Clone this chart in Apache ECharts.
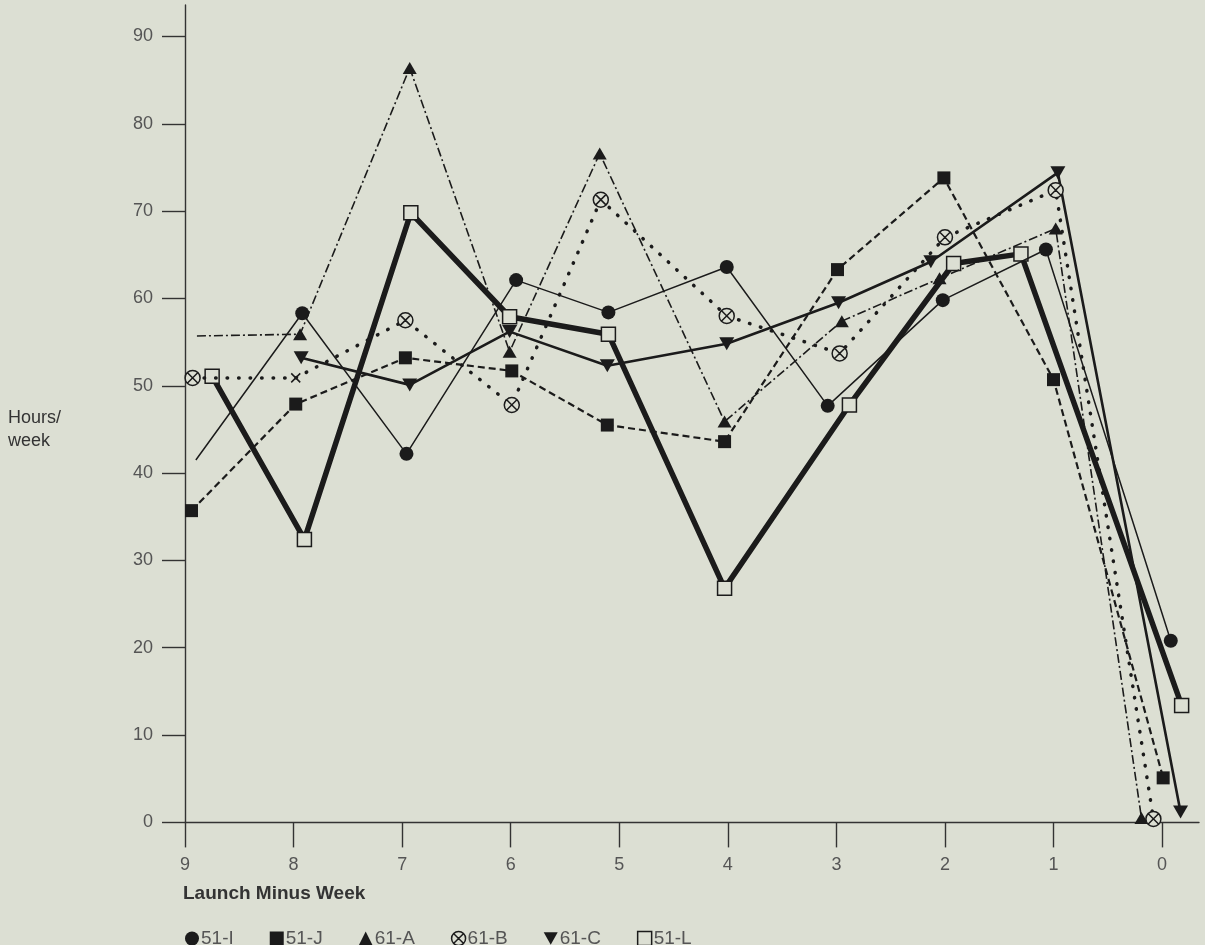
<!DOCTYPE html>
<html>
<head>
<meta charset="utf-8">
<script src="https://cdn.jsdelivr.net/npm/echarts@6/dist/echarts.min.js"></script>
<style>
html,body{margin:0;padding:0;background:#dcdfd3;}
#chart{width:1205px;height:945px;}
</style>
</head>
<body>
<div id="chart"></div>
<script>
// Tick labels
const xTicks = [9, 8, 7, 6, 5, 4, 3, 2, 1, 0];
const yTicks = [0, 10, 20, 30, 40, 50, 60, 70, 80, 90];
const seriesNames = ['51-I', '51-J', '61-A', '61-B', '61-C', '51-L'];

// Series values (launch-minus-week position, hours/week)
const weeks51I = [8.90, 7.92, 6.96, 5.95, 5.10, 4.01, 3.08, 2.02, 1.07, -0.08];
const hours51I = [41.5, 58.3, 42.2, 62.1, 58.4, 63.6, 47.7, 59.8, 65.6, 20.8];

const weeks51J = [8.94, 7.98, 6.97, 5.99, 5.11, 4.03, 2.99, 2.01, 1.00, -0.01];
const hours51J = [35.7, 47.9, 53.2, 51.7, 45.5, 43.6, 63.3, 73.8, 50.7, 5.1];

const weeks61A = [8.89, 7.94, 6.93, 6.01, 5.18, 4.03, 2.95, 2.05, 0.98, 0.19];
const hours61A = [55.7, 55.9, 86.4, 53.9, 76.6, 45.9, 57.4, 62.3, 68.0, 0.5];

const weeks61B = [8.93, 7.98, 6.97, 5.99, 5.17, 4.01, 2.97, 2.00, 0.98, 0.08];
const hours61B = [50.9, 50.9, 57.5, 47.8, 71.3, 58.0, 53.7, 67.0, 72.4, 0.4];

const weeks61C = [7.93, 6.93, 6.01, 5.11, 4.01, 2.98, 2.13, 0.96, -0.17];
const hours61C = [53.2, 50.1, 56.2, 52.3, 54.8, 59.5, 64.2, 74.4, 1.2];

const weeks51L = [8.75, 7.90, 6.92, 6.01, 5.10, 4.03, 2.88, 1.92, 1.30, -0.18];
const hours51L = [51.1, 32.4, 69.8, 57.9, 55.9, 26.8, 47.8, 64.0, 65.1, 13.4];

const BG = '#dcdfd3';
const INK = '#1b1b1b';
const CROSS_CIRCLE = 'path://M0,10A10,10 0 1 1 20,10A10,10 0 1 1 0,10Z M3.5,3.5L16.5,16.5 M16.5,3.5L3.5,16.5';
const CROSS = 'path://M0,0L10,10 M10,0L0,10';

function pairs(xs, ys, opts) {
  return xs.map((x, i) => {
    const item = { value: [x, ys[i]] };
    if (opts && opts[i]) Object.assign(item, opts[i]);
    return item;
  });
}

const chart = echarts.init(document.getElementById('chart'), null, { renderer: 'canvas' });

const option = {
  backgroundColor: BG,
  animation: false,
  textStyle: { fontFamily: '"Liberation Sans", Arial, sans-serif' },
  grid: { left: 185, right: 6, top: 5, bottom: 122.6, containLabel: false },
  xAxis: {
    type: 'value', inverse: true, min: -0.34, max: 9,
    axisLine: { show: true, onZero: false, lineStyle: { color: '#333', width: 1.4 } },
    axisTick: { show: true, length: 25, customValues: xTicks, lineStyle: { color: '#333', width: 1.4 } },
    axisLabel: { customValues: xTicks, margin: 34, fontSize: 18, color: '#555' },
    splitLine: { show: false }
  },
  yAxis: {
    type: 'value', min: 0, max: 93.6,
    axisLine: { show: true, onZero: false, lineStyle: { color: '#333', width: 1.4 } },
    axisTick: { show: true, length: 23, customValues: yTicks, lineStyle: { color: '#333', width: 1.4 } },
    axisLabel: { customValues: yTicks, margin: 32, fontSize: 18, color: '#555' },
    splitLine: { show: false }
  },
  legend: {
    left: 180, top: 924, itemWidth: 14, itemHeight: 14, itemGap: 36,
    textStyle: { fontSize: 19, color: '#555', padding: [0,0,0,-3] },
    selectedMode: false,
    data: [
      { name: '51-I', icon: 'circle', itemStyle: { color: INK, borderWidth: 0 } },
      { name: '51-J', icon: 'rect', itemStyle: { color: INK, borderWidth: 0 } },
      { name: '61-A', icon: 'triangle', itemStyle: { color: INK, borderWidth: 0 } },
      { name: '61-B', icon: CROSS_CIRCLE, itemStyle: { color: BG, borderColor: INK, borderWidth: 1.5 } },
      { name: '61-C', icon: 'path://M0,0L20,0L10,18Z', itemStyle: { color: INK, borderWidth: 0 } },
      { name: '51-L', icon: 'rect', itemStyle: { color: BG, borderColor: INK, borderWidth: 1.5 } }
    ]
  },
  graphic: [
    { type: 'text', left: 8, top: 407, style: { text: 'Hours/\nweek', fontSize: 18, lineHeight: 23, fill: '#333', fontFamily: '"Liberation Sans", Arial, sans-serif' } },
    { type: 'text', left: 183, top: 884, style: { text: 'Launch Minus Week', fontSize: 19, fontWeight: 'bold', fill: '#333', fontFamily: '"Liberation Sans", Arial, sans-serif' } }
  ],
  series: [
    {
      name: '51-I', type: 'line', z: 3,
      data: pairs(weeks51I, hours51I, { 0: { symbol: 'none' } }),
      symbol: 'circle', symbolSize: 14,
      lineStyle: { color: INK, width: 1.5, type: 'solid' },
      itemStyle: { color: INK, borderWidth: 0 }
    },
    {
      name: '51-J', type: 'line', z: 3,
      data: pairs(weeks51J, hours51J),
      symbol: 'rect', symbolSize: 13,
      lineStyle: { color: INK, width: 2.2, type: [7, 4] },
      itemStyle: { color: INK, borderWidth: 0 }
    },
    {
      name: '61-A', type: 'line', z: 3,
      data: pairs(weeks61A, hours61A, { 0: { symbol: 'none' } }),
      symbol: 'triangle', symbolSize: [14, 12],
      lineStyle: { color: INK, width: 1.6, type: [9, 3, 2, 3] },
      itemStyle: { color: INK, borderWidth: 0 }
    },
    {
      name: '61-B', type: 'line', z: 3,
      data: pairs(weeks61B, hours61B, { 1: { symbol: CROSS, symbolSize: 9 } }),
      symbol: CROSS_CIRCLE, symbolSize: 15,
      lineStyle: { color: INK, width: 3.5, type: [0.5, 11], cap: 'round' },
      itemStyle: { color: BG, borderColor: INK, borderWidth: 1.5 }
    },
    {
      name: '61-C', type: 'line', z: 3,
      data: pairs(weeks61C, hours61C),
      symbol: 'triangle', symbolRotate: 180, symbolSize: [15, 13],
      lineStyle: { color: INK, width: 2.6, type: 'solid' },
      itemStyle: { color: INK, borderWidth: 0 }
    },
    {
      name: '51-L', type: 'line', z: 2,
      data: pairs(weeks51L, hours51L),
      symbol: 'rect', symbolSize: 14,
      lineStyle: { color: INK, width: 5.5, type: 'solid' },
      itemStyle: { color: BG, borderColor: INK, borderWidth: 1.5 }
    }
  ]
};

chart.setOption(option);
</script>
</body>
</html>
